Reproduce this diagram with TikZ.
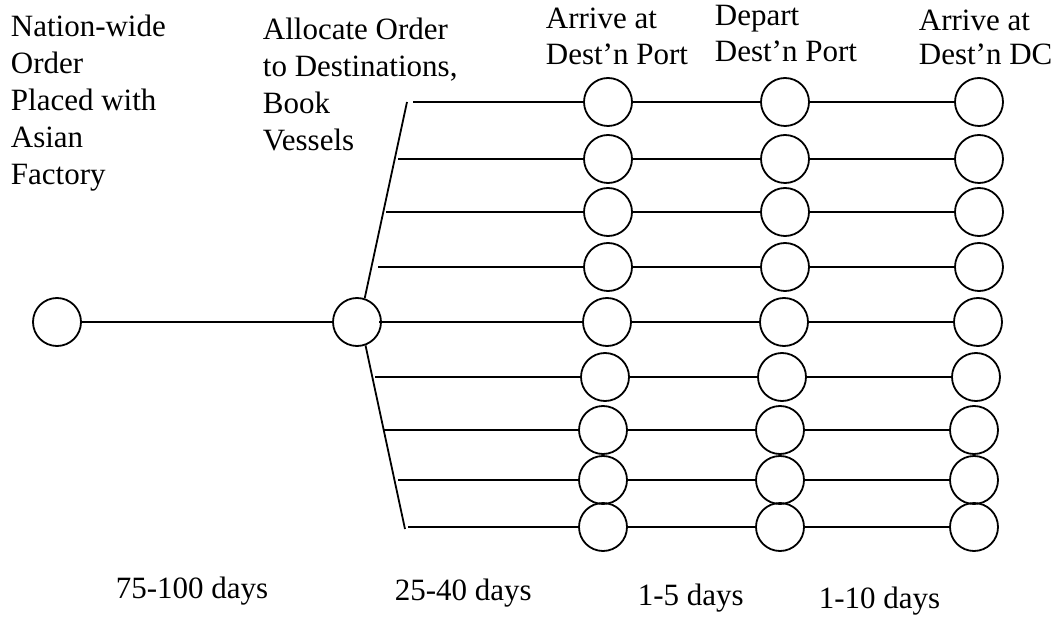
\documentclass[tikz,border=0pt]{standalone}
\usepackage{fontspec}
\setmainfont{Liberation Serif}
\usepackage{tikz}
\usetikzlibrary{positioning}

\begin{document}
\begin{tikzpicture}[x=1pt, y=-1pt, line width=1.8pt,
    event/.style={circle, draw, line width=1.8pt, minimum size=48pt, inner sep=0pt},
    head/.style={anchor=north west, inner sep=0pt, align=left, font=\fontsize{31}{37}\selectfont},
    span/.style={anchor=base west, inner sep=0pt, font=\fontsize{31}{37}\selectfont}]
    \useasboundingbox (0,0) rectangle (1062,617); % whole page
    \node [event] (order) at (57,322) {}; % order placed
    \node [event] (alloc) at (357,322) {}; % allocate and book
    \draw (order) -- (alloc);
    \coordinate (fantop) at (407,102); % upper end of fan
    \coordinate (fanbot) at (405,529); % lower end of fan
    \draw (alloc.72) -- (fantop);
    \draw (alloc.-70) -- (fanbot);
    \foreach \i/\y/\xs/\dx in {1/102/413/0, 2/159/398/0, 3/212/386/0, 4/267/378/0, 5/322/379/-1,
                               6/377/375/-3, 7/430/383/-5, 8/480/398/-5, 9/527/408/-5} {
        \coordinate (s\i) at (\xs,\y); % start of spoke
        \node [event] (port\i) at (608+\dx,\y) {}; % arrive at port
        \node [event] (dep\i) at (785+\dx,\y) {}; % depart port
        \node [event] (dc\i) at (979+\dx,\y) {}; % arrive at DC
        \draw (s\i) -- (port\i) -- (dep\i) -- (dc\i);
    }
    % stage headings
    \node [head] (hOrder) at (10,14) {Nation-wide\\Order\\Placed with\\Asian\\Factory};
    \node [head] (hAlloc) at (262,17) {Allocate Order\\to Destinations,\\Book\\Vessels};
    \node [head, font=\fontsize{31}{36}\selectfont] (hPort) at (545,7) {Arrive at\\Dest'n Port};
    \node [head, font=\fontsize{31}{36}\selectfont] (hDep) at (714,4) {Depart\\Dest'n Port};
    \node [head, font=\fontsize{31}{34}\selectfont] (hDC) at (918,9) {Arrive at\\Dest'n DC};
    % durations
    \node [span] (t1) at (115,598) {75-100 days};
    \node [span] (t2) at (394,600) {25-40 days};
    \node [span] (t3) at (637,605) {1-5 days};
    \node [span] (t4) at (818,608) {1-10 days};
\end{tikzpicture}
\end{document}
